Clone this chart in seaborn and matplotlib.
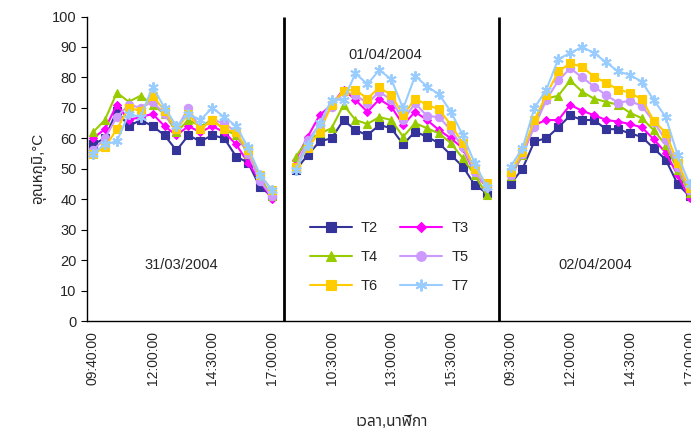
import numpy as np
import pandas as pd
import matplotlib
matplotlib.use('Agg')
from matplotlib import pyplot as plt
from matplotlib.lines import Line2D
from matplotlib.colors import to_hex
import seaborn as sns

# dates shown on the chart, one block of readings per day
days = ['31/03/2004', '01/04/2004', '02/04/2004']

day1_times = ['09:40:00', '10:00:00', '10:30:00', '11:00:00', '11:30:00', '12:00:00',
              '12:30:00', '13:00:00', '13:30:00', '14:00:00', '14:30:00', '15:00:00',
              '15:30:00', '16:00:00', '16:30:00', '17:00:00']
day2_times = ['09:00:00', '09:30:00', '10:00:00', '10:30:00', '11:00:00', '11:30:00',
              '12:00:00', '12:30:00', '13:00:00', '13:30:00', '14:00:00', '14:30:00',
              '15:00:00', '15:30:00', '16:00:00', '16:30:00', '17:00:00']
day3_times = ['09:30:00', '10:00:00', '10:30:00', '11:00:00', '11:30:00', '12:00:00',
              '12:30:00', '13:00:00', '13:30:00', '14:00:00', '14:30:00', '15:00:00',
              '15:30:00', '16:00:00', '16:30:00', '17:00:00']

series_names = ['T2', 'T3', 'T4', 'T5', 'T6', 'T7']

t2 = [[58, 60, 69, 64, 66, 64, 61, 56, 61, 59, 61, 60, 54, 52, 44, 41],
      [49.6, 54.5, 59, 60, 66, 62.7, 61, 64.4, 63.3, 58, 62.2, 60.5, 58.4, 54.5, 50.7, 44.7, 42],
      [45, 50, 59, 60, 63.6, 67.5, 66, 66, 63, 63, 61.6, 60.5, 56.7, 53, 45, 41]]
t3 = [[60, 63, 71, 66, 67, 68, 64, 61, 64, 62, 64, 62, 58, 52, 46, 40],
      [53, 60.5, 67.6, 71, 76, 72.6, 68.7, 72.8, 70.4, 64.4, 68.7, 66, 62.7, 60, 56.7, 48.5, 44],
      [47.5, 54.5, 64.4, 66, 66, 71, 69, 67.6, 66, 65.5, 64.7, 63.6, 59.7, 55.3, 48, 40.3]]
t4 = [[62, 66, 75, 72, 74, 71, 68, 62, 66, 64, 66, 63, 61, 55, 47, 41],
      [54, 59.4, 61.6, 63.3, 71, 66, 64.7, 67, 66, 60.5, 65, 63.3, 61.6, 58.4, 53.4, 48, 41.4],
      [47.5, 54.5, 65.5, 73, 74, 79, 75.3, 73, 72, 71, 68.4, 66.6, 62.7, 57.8, 49.6, 42]]
t5 = [[56, 60, 67, 71, 70, 72, 68, 63, 70, 63, 66, 65, 62, 55, 46, 41],
      [50.7, 59.4, 64.4, 70.4, 75.3, 74.2, 71.5, 75.3, 72.6, 66, 71.5, 67.3, 67, 62.7, 57, 49, 44],
      [48, 55, 63.8, 72.6, 79, 83, 80, 77, 74.2, 71.7, 72.3, 70.6, 65.5, 59.4, 50.7, 43]]
t6 = [[55, 57, 63, 70, 69, 74, 69, 63, 68, 63, 66, 63, 62, 56, 48, 43],
      [50.7, 56.7, 62.2, 71, 75.6, 76, 73, 76.7, 74.2, 67.6, 73, 71, 69.5, 64.4, 58.4, 49.8, 45.2],
      [49, 55.6, 66, 74.2, 82, 84.6, 83.5, 80.2, 78.3, 76, 75, 72.8, 65.8, 61.8, 52, 43.6]]
t7 = [[55, 58, 59, 68, 67, 77, 70, 64, 68, 66, 70, 67, 64, 57, 48, 43],
      [49.6, 57.8, 65, 72.6, 72.6, 81.3, 77.8, 82.4, 79.4, 69.8, 80.5, 77, 74.5, 68.7, 61, 51.8, 44],
      [50.7, 56.7, 70, 76, 86, 88, 90, 88, 85, 82, 80.8, 78.6, 72.6, 67, 54.5, 45]]

colors = {'T2': '#333399', 'T3': '#FF00FF', 'T4': '#99CC00',
          'T5': '#CC99FF', 'T6': '#FFCC00', 'T7': '#99CCFF'}
markers = {'T2': 's', 'T3': 'D', 'T4': '^', 'T5': 'o', 'T6': 's', 'T7': 'X'}
marker_size = {'T2': 5.5, 'T3': 4.5, 'T4': 6, 'T5': 6, 'T6': 5.5, 'T7': 7.5}

# one empty category between the days, like the original sheet
categories = day1_times + [''] + day2_times + [''] + day3_times
starts = [0, len(day1_times) + 1, len(day1_times) + len(day2_times) + 2]

rows = []
for name, vals in zip(series_names, [t2, t3, t4, t5, t6, t7]):
    for d, (start, day_vals) in enumerate(zip(starts, vals)):
        for i, v in enumerate(day_vals):
            rows.append((name, d, start + i, v))
df = pd.DataFrame(rows, columns=['series', 'day', 'pos', 'temp'])

sns.set_style('white')
plt.rcParams['font.family'] = ['Liberation Sans', 'Noto Sans Thai', 'Loma', 'Garuda',
                               'Tlwg Typo', 'Noto Sans', 'DejaVu Sans']

fig = plt.figure(figsize=(6.91, 4.48), dpi=100)
ax = fig.add_axes([87 / 691, 127 / 448, 608.5 / 691, 304.5 / 448])

sns.lineplot(data=df, x='pos', y='temp', hue='series', style='series', units='day',
             estimator=None, sort=False, palette=colors, markers=markers, dashes=False,
             linewidth=1.5, legend=False, ax=ax)

lookup = {to_hex(c): n for n, c in colors.items()}
for line in ax.lines:
    name = lookup.get(to_hex(line.get_color()))
    if name is None:
        continue
    line.set_markeredgecolor(colors[name])
    line.set_markersize(marker_size[name])
    line.set_markeredgewidth(0.8)
    if name == 'T7':
        line.set_marker((6, 2, 0))
        line.set_markeredgewidth(1.4)

# day separators
gaps = [s - 1 for s in starts[1:]]
ax.vlines(gaps, 0, 100, color='black', linewidth=2, zorder=1)

ax.set_xlim(-0.5, len(categories) - 0.5)
ax.set_ylim(0, 100)
ax.set_yticks(np.arange(0, 101, 10))
label_pos = list(range(0, len(categories), 5))
ax.set_xticks(label_pos)
ax.set_xticklabels([categories[i] for i in label_pos], rotation=90, fontsize=10)
ax.set_xticks(np.arange(-0.5, len(categories), 1), minor=True)
ax.tick_params(axis='x', which='major', length=0, pad=7)
ax.tick_params(axis='x', which='minor', length=4, direction='out', color='black', width=0.8)
ax.tick_params(axis='y', length=4, direction='out', color='black', width=0.8, labelsize=10.5)
ax.tick_params(axis='both', bottom=True, left=True)

for s in ['top', 'right']:
    ax.spines[s].set_visible(False)
for s in ['left', 'bottom']:
    ax.spines[s].set_color('black')
    ax.spines[s].set_linewidth(1)

ax.set_xlabel('เวลา,นาฬิกา', fontsize=11, labelpad=22)
ax.set_ylabel('อุณหภูมิ,°C', fontsize=11, labelpad=4)

ax.text(7.4, 18.4, days[0], ha='center', va='center', fontsize=10.5)
ax.text(24.5, 87.4, days[1], ha='center', va='center', fontsize=10.5)
ax.text(42.1, 18.4, days[2], ha='center', va='center', fontsize=10.5)

# legend is filled row by row: T2 T3 / T4 T5 / T6 T7
legend_order = series_names[0::2] + series_names[1::2]
handles = []
for name in legend_order:
    h = Line2D([], [], color=colors[name], linewidth=1.5,
               marker=(6, 2, 0) if name == 'T7' else markers[name],
               markersize=marker_size[name] + 1, markeredgecolor=colors[name],
               markeredgewidth=1.4 if name == 'T7' else 0.8)
    handles.append(h)
ax.legend(handles, legend_order, ncol=2, loc='upper left', bbox_to_anchor=(0.345, 0.37),
          frameon=False, fontsize=10.5, handlelength=2.9, labelspacing=1.0,
          columnspacing=1.5, handletextpad=0.6)

fig.savefig('out.png', dpi=100)
